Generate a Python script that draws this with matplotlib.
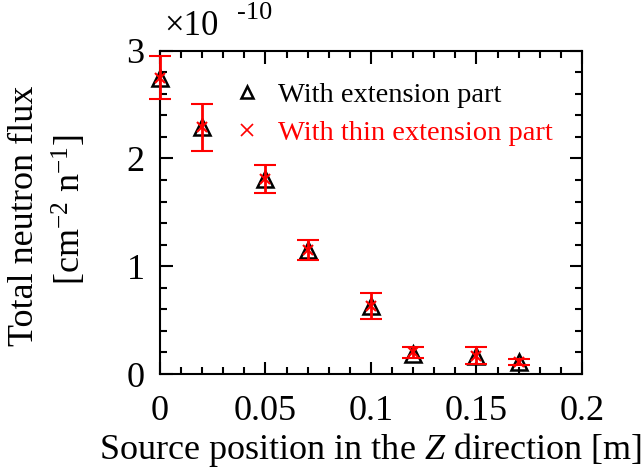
import matplotlib
matplotlib.use("Agg")
import matplotlib.pyplot as plt
from matplotlib.ticker import MultipleLocator
from matplotlib.lines import Line2D

plt.rcParams['font.family'] = ['Liberation Serif', 'DejaVu Serif']
plt.rcParams['mathtext.fontset'] = 'custom'
plt.rcParams['mathtext.rm'] = 'Liberation Serif'
plt.rcParams['mathtext.it'] = 'Liberation Serif:italic'

# Source position [m]
z_pos = [0.0, 0.02, 0.05, 0.07, 0.10, 0.12, 0.15, 0.17]
# Total neutron flux in units of 1e-10 cm^-2 n^-1
flux_ext = [2.75, 2.29, 1.81, 1.15, 0.63, 0.19, 0.17, 0.11]
flux_thin = [2.75, 2.29, 1.81, 1.15, 0.63, 0.20, 0.17, 0.11]
err_thin = [0.20, 0.22, 0.13, 0.09, 0.12, 0.05, 0.08, 0.03]

xticks = [0, 0.05, 0.1, 0.15, 0.2]
xticklabels = ['0', '0.05', '0.1', '0.15', '0.2']
yticks = [0, 1, 2, 3]
labels = ['With extension part', 'With thin extension part']

FS = 26

fig = plt.figure(figsize=(6.43, 4.73), dpi=100)
ax = fig.add_axes([0.2488, 0.2093, 0.6562, 0.6835])

ax.plot(z_pos, flux_ext, linestyle='none', marker='^', markersize=12,
        markerfacecolor='none', markeredgecolor='black', markeredgewidth=1.8,
        clip_on=False, zorder=3)
eb = ax.errorbar(z_pos, flux_thin, yerr=err_thin, linestyle='none', marker='x',
                 markersize=7, color='red', ecolor='red', elinewidth=2, capsize=8,
                 capthick=2, markeredgewidth=1.5, zorder=4)
for art in [eb[0], *eb[1], *eb[2]]:
    art.set_clip_on(False)

ax.set_xlim(0, 0.2)
ax.set_ylim(0, 3)
ax.set_xticks(xticks)
ax.set_xticklabels(xticklabels)
ax.set_yticks(yticks)
ax.xaxis.set_minor_locator(MultipleLocator(0.01))
ax.yaxis.set_minor_locator(MultipleLocator(0.2))
ax.tick_params(which='both', direction='in', top=True, right=True, width=1.5,
               labelsize=FS)
ax.tick_params(axis='x', which='major', pad=15)
ax.tick_params(axis='y', which='major', pad=11)
ax.tick_params(which='major', length=9)
ax.tick_params(which='minor', length=5)
for s in ax.spines.values():
    s.set_linewidth(1.5)

ax.set_xlabel('Source position in the $Z$ direction [m]', fontsize=FS, labelpad=2)

fig.text(0.038, 0.543, 'Total neutron flux', fontsize=FS, rotation=90,
         ha='center', va='center')
fig.text(0.108, 0.556, '[cm$^{-2}$ n$^{-1}$]', fontsize=FS, rotation=90,
         ha='center', va='center')

handles = [
    Line2D([], [], linestyle='none', marker='^', markersize=8,
           markerfacecolor='none', markeredgecolor='black', markeredgewidth=1.8),
    Line2D([], [], linestyle='none', marker='x', markersize=8,
           color='red', markeredgewidth=1.2),
]
leg = ax.legend(handles, labels, loc='upper left', bbox_to_anchor=(0.166, 0.904),
                frameon=False, fontsize=20.5, handletextpad=0.5, handlelength=1.2,
                labelspacing=0.43, borderpad=0, borderaxespad=0)
for txt, col in zip(leg.get_texts(), ['black', 'red']):
    txt.set_color(col)

fig.text(0.255, 0.943, '×10', fontsize=25, ha='left', va='center')
fig.text(0.368, 0.973, '-10', fontsize=19, ha='left', va='center')

fig.savefig('out.png', dpi=100)
